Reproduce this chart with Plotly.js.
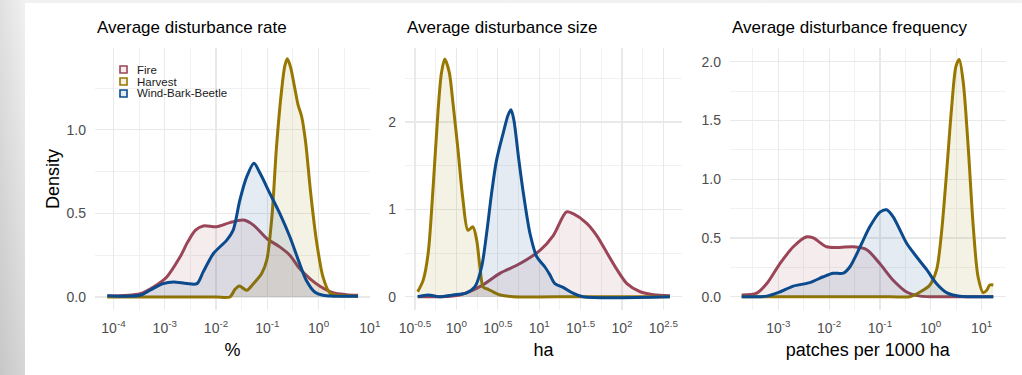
<!DOCTYPE html>
<html><head><meta charset="utf-8">
<script src="https://cdn.plot.ly/plotly-3.0.1.min.js"></script>
<style>
html,body{margin:0;padding:0;width:1022px;height:375px;overflow:hidden;}
body{background:linear-gradient(to right, rgba(0,0,0,0.07), rgba(0,0,0,0) 25px), linear-gradient(to bottom,#f1f1f1,#d6d6d6);}
#panel{position:absolute;left:25px;top:3px;width:997px;height:372px;background:#fff;}
#chart{position:absolute;left:0;top:0;width:1022px;height:375px;}
</style></head><body><div id="panel"></div><div id="chart"></div>
<script>
// Series
const seriesNames = ['Fire', 'Harvest', 'Wind-Bark-Beetle'];
const seriesColors = ['#9b4557', '#987700', '#0b4a8c'];
const seriesFills = ['rgba(155,69,87,0.10)', 'rgba(152,119,0,0.10)', 'rgba(11,74,140,0.11)'];

// Panel titles / axis titles
const panelTitles = ['Average disturbance rate', 'Average disturbance size', 'Average disturbance frequency'];
const xTitles = ['%', 'ha', 'patches per 1000 ha'];
const yTitle = 'Density';

// Panel 1: disturbance rate (x given as log10 of %)
const rateFireLog = [-4.12,-3.48,-3.22,-2.96,-2.70,-2.55,-2.40,-2.25,-1.99,-1.73,-1.465,-1.27,-1.01,-0.757,-0.56,-0.37,-0.17,0.02,0.28,0.54,0.77];
const rateFireDen = [0.006,0.02,0.06,0.12,0.24,0.33,0.40,0.425,0.42,0.445,0.46,0.43,0.35,0.30,0.25,0.17,0.11,0.066,0.026,0.014,0.01];
const rateHarvLog = [-4.12,-3.0,-2.0,-1.73,-1.63,-1.546,-1.40,-1.28,-1.11,-1.01,-0.91,-0.82,-0.72,-0.66,-0.61,-0.55,-0.47,-0.40,-0.33,-0.25,-0.16,-0.043,0.086,0.216,0.35,0.77];
const rateHarvDen = [0,0,0,0,0.046,0.066,0.04,0.076,0.14,0.22,0.48,0.90,1.24,1.38,1.425,1.38,1.26,1.15,1.08,0.92,0.64,0.34,0.12,0.026,0.01,0.005];
const rateWindLog = [-4.12,-3.48,-3.29,-3.03,-2.83,-2.57,-2.37,-2.25,-2.05,-1.79,-1.665,-1.535,-1.40,-1.26,-1.14,-0.95,-0.757,-0.56,-0.37,-0.24,-0.076,0.086,0.28,0.77];
const rateWindDen = [0.008,0.01,0.04,0.08,0.09,0.08,0.08,0.15,0.26,0.34,0.40,0.58,0.72,0.80,0.74,0.62,0.50,0.36,0.20,0.10,0.03,0.01,0.005,0.005];

// Panel 2: disturbance size (x given as log10 of ha)
const sizeFireLog = [-0.467,-0.21,0.04,0.285,0.53,0.77,1.01,1.17,1.33,1.41,1.575,1.695,1.82,1.94,2.06,2.22,2.38,2.58];
const sizeFireDen = [0,0,0.02,0.115,0.27,0.38,0.53,0.70,0.97,0.95,0.84,0.70,0.50,0.31,0.15,0.057,0.023,0.01];
const sizeHarvLog = [-0.467,-0.40,-0.34,-0.28,-0.22,-0.18,-0.14,-0.086,-0.04,0.02,0.08,0.14,0.20,0.245,0.285,0.325,0.385,0.445,0.53,0.69,1.5,2.58];
const sizeHarvDen = [0.057,0.19,0.50,1.26,2.14,2.56,2.72,2.57,2.21,1.68,1.11,0.76,0.80,0.65,0.34,0.11,0.085,0.055,0.02,0,0,0];
const sizeWindLog = [-0.467,-0.34,-0.21,-0.04,0.125,0.225,0.305,0.365,0.425,0.485,0.565,0.625,0.66,0.695,0.75,0.81,0.89,0.97,1.07,1.13,1.19,1.29,1.41,1.53,2.58];
const sizeWindDen = [0,0.02,0,0.02,0.045,0.115,0.34,0.72,1.18,1.56,1.87,2.08,2.14,2.02,1.60,1.18,0.72,0.46,0.34,0.25,0.15,0.107,0.04,0,0];

// Panel 3: disturbance frequency (x given as log10 of patches per 1000 ha)
const freqFireLog = [-3.72,-3.425,-3.23,-2.97,-2.705,-2.44,-2.31,-2.05,-1.79,-1.525,-1.26,-1.0,-0.74,-0.475,-0.21,0.05,1.23];
const freqFireDen = [0.014,0.03,0.11,0.28,0.425,0.51,0.50,0.425,0.42,0.425,0.40,0.28,0.14,0.04,0.005,0,0];
const freqHarvLog = [-3.72,-2.0,-0.8,-0.41,-0.21,-0.017,0.115,0.21,0.31,0.41,0.495,0.56,0.64,0.74,0.835,0.93,1.03,1.10,1.16,1.23];
const freqHarvDen = [0,0,0,0,0.04,0.10,0.23,0.54,1.05,1.61,1.96,2.02,1.82,1.25,0.60,0.17,0.035,0.055,0.10,0.10];
const freqWindLog = [-3.72,-3.23,-2.97,-2.705,-2.38,-2.115,-1.92,-1.72,-1.59,-1.39,-1.20,-1.0,-0.87,-0.74,-0.475,-0.28,-0.08,0.115,0.31,0.57,1.23];
const freqWindDen = [0,0.005,0.04,0.09,0.12,0.17,0.20,0.20,0.255,0.425,0.595,0.72,0.74,0.68,0.455,0.34,0.23,0.11,0.035,0.005,0];

// Tick definitions (log10 exponents)
const p1Ticks = [-4,-3,-2,-1,0,1];
const p2Ticks = [-0.5,0,0.5,1,1.5,2,2.5];
const p3Ticks = [-3,-2,-1,0,1];
const p1Minor = [-3.5,-2.5,-1.5,-0.5,0.5];
const p2Minor = [-0.25,0.25,0.75,1.25,1.75,2.25];
const p3Minor = [-3.5,-2.5,-1.5,-0.5,0.5];

const pow10 = v => Math.pow(10, v);
const supLabel = v => '10<sup>' + v + '</sup>';

const panels = [
  [[rateFireLog, rateFireDen], [rateHarvLog, rateHarvDen], [rateWindLog, rateWindDen]],
  [[sizeFireLog, sizeFireDen], [sizeHarvLog, sizeHarvDen], [sizeWindLog, sizeWindDen]],
  [[freqFireLog, freqFireDen], [freqHarvLog, freqHarvDen], [freqWindLog, freqWindDen]]
];

const traces = [];
panels.forEach((series, p) => {
  series.forEach((s, i) => {
    traces.push({
      type: 'scatter', mode: 'lines',
      x: s[0].map(pow10), y: s[1],
      xaxis: p === 0 ? 'x' : 'x' + (p + 1),
      yaxis: p === 0 ? 'y' : 'y' + (p + 1),
      fill: 'tozeroy', fillcolor: seriesFills[i],
      line: {color: seriesColors[i], width: 3, shape: 'spline', smoothing: 0.8},
      name: seriesNames[i], showlegend: false, hoverinfo: 'skip'
    });
  });
});

const W = 1022, H = 375;
const px = p => p / W, py = p => 1 - p / H;
const domainsX = [[px(95), px(370)], [px(405), px(682)], [px(730), px(1005.5)]];
const domainY = [py(310), py(48)];

const fontFam = 'Liberation Sans, Arial, sans-serif';
const gridCommon = {
  showline: false, zeroline: false, ticks: '', showgrid: true,
  gridcolor: '#e9e9e9', gridwidth: 1.2,
  tickfont: {family: fontFam, size: 14, color: '#4d4d4d'}
};

function xAxis(k, ticks, minor, range, title) {
  return Object.assign({}, gridCommon, {
    type: 'log', domain: domainsX[k], anchor: k === 0 ? 'y' : 'y' + (k + 1),
    range: range, tickmode: 'array', tickvals: ticks.map(pow10), ticktext: ticks.map(supLabel),
    minor: {tickmode: 'array', tickvals: minor.map(pow10), showgrid: true, gridcolor: '#f1f1f1', gridwidth: 1, ticks: ''},
    ticklabelstandoff: 8,
    title: {text: title, standoff: 8, font: {family: fontFam, size: 18, color: '#000'}}
  });
}
function yAxis(k, range, dtick, fmt, title) {
  return Object.assign({}, gridCommon, {
    domain: domainY, anchor: k === 0 ? 'x' : 'x' + (k + 1),
    range: range, tickmode: 'linear', tick0: 0, dtick: dtick, tickformat: fmt,
    minor: {tickmode: 'linear', tick0: 0, dtick: dtick / 2, showgrid: true, gridcolor: '#f1f1f1', gridwidth: 1, ticks: ''},
    ticklabelstandoff: 8,
    title: title ? {text: title, standoff: 2, font: {family: fontFam, size: 18, color: '#000'}} : {text: ''}
  });
}

const annotations = [];
panelTitles.forEach((t, k) => {
  annotations.push({text: t, xref: 'paper', yref: 'paper', x: domainsX[k][0], y: py(28),
    xanchor: 'left', yanchor: 'middle', showarrow: false,
    font: {family: fontFam, size: 17, color: '#000'}});
});

// manual legend inside panel 1
const shapes = [];
const legendRowsY = [69.5, 81.5, 93.5];
seriesNames.forEach((n, i) => {
  annotations.push({text: n, xref: 'paper', yref: 'paper', x: px(136), y: py(legendRowsY[i]),
    xanchor: 'left', yanchor: 'middle', showarrow: false, borderpad: 0,
    font: {family: fontFam, size: 11.5, color: '#1a1a1a'}});
  shapes.push({type: 'rect', xref: 'paper', yref: 'paper',
    x0: px(120), x1: px(127), y0: py(legendRowsY[i] + 3.5), y1: py(legendRowsY[i] - 3.5),
    line: {color: seriesColors[i], width: 1.6}, fillcolor: seriesFills[i]});
});

const layout = {
  width: W, height: H, margin: {l: 0, r: 0, t: 0, b: 0},
  paper_bgcolor: 'rgba(0,0,0,0)', plot_bgcolor: 'rgba(0,0,0,0)',
  font: {family: fontFam}, showlegend: false,
  xaxis: xAxis(0, p1Ticks, p1Minor, [-4.36, 1.003], xTitles[0]),
  xaxis2: xAxis(1, p2Ticks, p2Minor, [-0.62, 2.725], xTitles[1]),
  xaxis3: xAxis(2, p3Ticks, p3Minor, [-3.95, 1.47], xTitles[2]),
  yaxis: yAxis(0, [-0.078, 1.49], 0.5, '.1f', yTitle),
  yaxis2: yAxis(1, [-0.152, 2.846], 1, 'd', ''),
  yaxis3: yAxis(2, [-0.113, 2.117], 0.5, '.1f', ''),
  annotations: annotations, shapes: shapes
};

Plotly.newPlot('chart', traces, layout, {displayModeBar: false, staticPlot: true});
</script></body></html>
